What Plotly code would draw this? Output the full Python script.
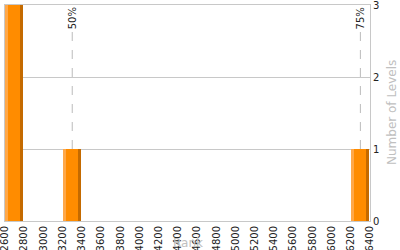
import plotly.graph_objects as go

bin_starts = [2600, 3200, 6200]
counts = [3, 1, 1]
bin_width = 200
percentile_values = [3300, 6300]
percentile_labels = ["50%", "75%"]
x_ticks = list(range(2600, 6401, 200))
y_ticks = [0, 1, 2, 3]

bw = 188
fig = go.Figure()
fig.add_trace(go.Bar(x=bin_starts, y=counts, width=bw, offset=0,
                     marker=dict(color="#c46a00", line=dict(width=0)), hoverinfo="skip"))
fig.add_trace(go.Bar(x=bin_starts, y=counts, width=bw - 31, offset=0,
                     marker=dict(color="#ffa848", line=dict(width=0)), hoverinfo="skip"))
fig.add_trace(go.Bar(x=[b + 31 for b in bin_starts], y=counts, width=bw - 62, offset=0,
                     marker=dict(color="#ff8c00", line=dict(width=0)), hoverinfo="skip"))

for v, lab in zip(percentile_values, percentile_labels):
    fig.add_shape(type="line", x0=v, x1=v, xref="x", y0=0, y1=0.885, yref="paper",
                  line=dict(color="#bbbbbb", width=1, dash="dash"), layer="below")
    fig.add_annotation(x=v, xref="x", y=1, yref="paper", text=lab, textangle=-90,
                       showarrow=False, xanchor="center", yanchor="top",
                       font=dict(family="DejaVu Sans", size=10, color="#222222"))

fig.add_annotation(x=0.5, xref="paper", y=0, yref="paper", yshift=-22, text="Rank",
                   showarrow=False, xanchor="center", yanchor="middle",
                   font=dict(family="DejaVu Sans", size=12, color="#c0c0c0"))
fig.add_annotation(x=1, xref="paper", xshift=22, y=0.5, yref="paper", text="Number of Levels",
                   textangle=-90, showarrow=False, xanchor="center", yanchor="middle",
                   font=dict(family="DejaVu Sans", size=12, color="#c0c0c0"))

fig.update_layout(
    width=400, height=250, margin=dict(l=5, r=30, t=5, b=29),
    barmode="overlay", bargap=0, showlegend=False,
    plot_bgcolor="white", paper_bgcolor="white",
    xaxis=dict(range=[2600, 6400], tickvals=x_ticks, ticktext=[str(t) for t in x_ticks],
               tickangle=-90, showgrid=False, showline=True, linecolor="#c8c8c8",
               mirror=True, ticks="", zeroline=False, automargin=False,
               ticklabeloverflow="allow",
               tickfont=dict(family="DejaVu Sans", size=10, color="#222222")),
    yaxis=dict(range=[0, 3], tickvals=y_ticks, side="right", showgrid=True,
               gridcolor="#c8c8c8", showline=True, linecolor="#c8c8c8", mirror=True,
               zeroline=False, ticks="", automargin=False, ticklabeloverflow="allow",
               tickfont=dict(family="DejaVu Sans", size=10, color="#222222")),
)
fig.write_html("out.html")
